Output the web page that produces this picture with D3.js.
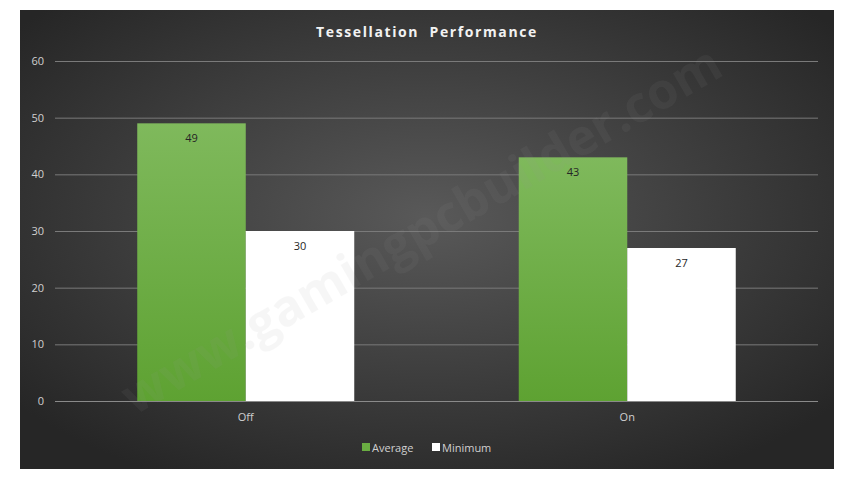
<!DOCTYPE html>
<html><head><meta charset="utf-8">
<script src="https://cdn.jsdelivr.net/npm/d3@7"></script>
<style>body{margin:0;background:#fff}svg{display:block}</style>
</head><body>
<script>
const categories = ["Off", "On"];
const seriesNames = ["Average", "Minimum"];
const averageValues = [49, 43];
const minimumValues = [30, 27];
const yTicks = [0, 10, 20, 30, 40, 50, 60];
const title = "Tessellation  Performance";

const W = 853, H = 479;
const svg = d3.select("body").append("svg").attr("width", W).attr("height", H);
const defs = svg.append("defs");
const bg = defs.append("radialGradient").attr("id","bg").attr("cx","50%").attr("cy","45%").attr("r","65%");
bg.append("stop").attr("offset","0%").attr("stop-color","#595959");
bg.append("stop").attr("offset","100%").attr("stop-color","#262626");
const gg = defs.append("linearGradient").attr("id","gr").attr("x1",0).attr("y1",0).attr("x2",0).attr("y2",1);
gg.append("stop").attr("offset","0%").attr("stop-color","#7fb95c");
gg.append("stop").attr("offset","100%").attr("stop-color","#5ea232");

svg.append("rect").attr("x",20).attr("y",10).attr("width",814).attr("height",459).attr("fill","url(#bg)");

const font = "'Open Sans', 'Liberation Sans', sans-serif";
svg.append("text").attr("x",427).attr("y",37).attr("text-anchor","middle")
  .attr("font-family",font).attr("font-weight","bold").attr("font-size",14)
  .attr("letter-spacing","1.6px").attr("fill","#f2f2f2")
  .style("white-space","pre").attr("xml:space","preserve").text(title);

const y = d3.scaleLinear().domain([0,60]).range([401,61]);
const x0 = d3.scaleBand().domain(categories).range([55,818]);
const x1 = d3.scaleBand().domain(seriesNames).range([x0.bandwidth()/2-108.5, x0.bandwidth()/2+108.5]);

const grid = svg.append("g");
grid.selectAll("line").data(yTicks).join("line")
  .attr("x1",55).attr("x2",818).attr("y1",d=>y(d)+0.5).attr("y2",d=>y(d)+0.5)
  .attr("stroke",d=>d===0?"#8a8a8a":"#7a7a7a").attr("stroke-width",1);

const yAxis = d3.axisLeft(y).tickValues(yTicks).tickSize(0).tickPadding(0);
const ya = svg.append("g").attr("transform","translate(44,0)").call(yAxis);
ya.select(".domain").remove();
ya.selectAll("text").attr("font-family",font).attr("font-size",11).attr("fill","#d0d0d0");

const xAxis = d3.axisBottom(x0).tickSize(0).tickPadding(0);
const xa = svg.append("g").attr("transform","translate(0,413)").call(xAxis);
xa.select(".domain").remove();
xa.selectAll("text").attr("font-family",font).attr("font-size",11).attr("fill","#d0d0d0");

const rows = categories.map((c,i)=>({cat:c, vals:[{s:"Average",v:averageValues[i]},{s:"Minimum",v:minimumValues[i]}]}));
const groups = svg.append("g").selectAll("g").data(rows).join("g")
  .attr("transform",d=>`translate(${x0(d.cat)},0)`);
groups.selectAll("rect").data(d=>d.vals).join("rect")
  .attr("x",d=>x1(d.s)).attr("width",x1.bandwidth())
  .attr("y",d=>y(d.v)).attr("height",d=>y(0)-y(d.v))
  .attr("fill",d=>d.s==="Average"?"url(#gr)":"#ffffff");
groups.selectAll("text").data(d=>d.vals).join("text")
  .attr("x",d=>x1(d.s)+x1.bandwidth()/2).attr("y",d=>y(d.v)+19)
  .attr("text-anchor","middle").attr("font-family",font).attr("font-size",11)
  .attr("fill","#262626").text(d=>d.v);

// watermark (drawn over the bars, faint)
svg.append("text").attr("transform","translate(430,245) rotate(-30)")
  .attr("text-anchor","middle").attr("font-family",font).attr("font-weight","bold")
  .attr("font-size",50).attr("fill","#9a9a9a").attr("opacity",0.08)
  .text("www.gamingpcbuilder.com");

const lg = svg.append("g").attr("transform","translate(362,443)");
const items = [{s:"Average",c:"#6aad42",x:0},{s:"Minimum",c:"#ffffff",x:70}];
items.forEach(it=>{
  lg.append("rect").attr("x",it.x).attr("y",0).attr("width",8).attr("height",8).attr("fill",it.c);
  lg.append("text").attr("x",it.x+10).attr("y",8.5).attr("font-family",font).attr("font-size",11)
    .attr("fill","#d0d0d0").text(it.s);
});
</script>
</body></html>
